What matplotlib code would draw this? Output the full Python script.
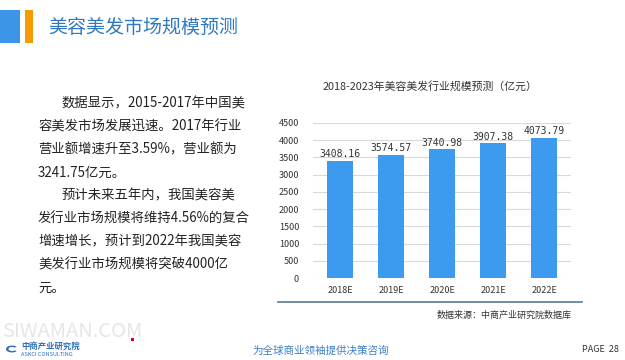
import matplotlib.pyplot as plt
from matplotlib.patches import Rectangle, Wedge
from matplotlib.lines import Line2D

plt.rcParams['font.family'] = ['Noto Sans CJK SC', 'DejaVu Sans']

# data
years = ['2018E', '2019E', '2020E', '2021E', '2022E']
market_size = [3408.16, 3574.57, 3740.98, 3907.38, 4073.79]
y_ticks = [0, 500, 1000, 1500, 2000, 2500, 3000, 3500, 4000, 4500]

page_title = '美容美发市场规模预测'
chart_title = '2018-2023年美容美发行业规模预测（亿元）'
source_text = '数据来源：中商产业研究院数据库'
body_lines = [
    '数据显示，2015-2017年中国美',
    '容美发市场发展迅速。2017年行业',
    '营业额增速升至3.59%，营业额为',
    '3241.75亿元。',
    '预计未来五年内，我国美容美',
    '发行业市场规模将维持4.56%的复合',
    '增速增长，预计到2022年我国美容',
    '美发行业市场规模将突破4000亿',
    '元。',
]
indented = [0, 4]

W, H = 625, 360
fig = plt.figure(figsize=(W / 100, H / 100), dpi=100)
fig.patch.set_facecolor('white')


def fx(x):
    return x / W


def fy(y):
    return 1 - y / H


# header blocks
fig.add_artist(Rectangle((fx(0), fy(43)), fx(20), 33 / H, transform=fig.transFigure,
                         color='#3D95E8', lw=0))
fig.add_artist(Rectangle((fx(25), fy(43)), fx(8), 33 / H, transform=fig.transFigure,
                         color='#F59C00', lw=0))
fig.text(fx(48), fy(27), page_title, fontsize=13.7, color='#2F78C4', va='center')

# left text
for i, line in enumerate(body_lines):
    x = 62 if i in indented else 38
    fig.text(fx(x), fy(103 + i * 23.1), line, fontsize=9.6, color='#222222', va='center')

# chart
ax = fig.add_axes([fx(313), fy(278), fx(571 - 313), (278 - 123) / H])
bars = ax.bar(range(len(years)), market_size, width=0.51, color='#3D9BEF', zorder=3)
ax.set_xlim(-0.53, len(years) - 0.47)
ax.set_ylim(0, 4500)
ax.set_yticks(y_ticks)
ax.set_xticks(range(len(years)))
ax.set_xticklabels(years)
ax.tick_params(axis='both', length=0, labelsize=6.5, colors='#333333')
ax.tick_params(axis='y', pad=10)
ax.tick_params(axis='x', pad=6)
ax.grid(axis='y', color='#D9D9D9', lw=0.8, zorder=0)
for s in ax.spines.values():
    s.set_visible(False)
for b, v in zip(bars, market_size):
    ax.text(b.get_x() + b.get_width() / 2, v + 40, f'{v:.2f}', ha='center', va='bottom',
            fontsize=7, color='#333333', family='DejaVu Sans Mono')

fig.text(fx(430), fy(86), chart_title, fontsize=7.8, color='#333333', ha='center', va='center')
fig.add_artist(Line2D([fx(278), fx(582)], [fy(302), fy(302)], transform=fig.transFigure,
                      color='#5A7A90', lw=1.2))
fig.text(fx(572), fy(315), source_text, fontsize=6.5, color='#333333', ha='right', va='center')

# footer
fig.text(fx(2), fy(337), 'SIWAMAN.COM', fontsize=14.5, color='#E6E6E6', va='baseline')
fig.add_artist(Rectangle((fx(131), fy(341)), fx(3), 3 / H, transform=fig.transFigure,
                         color='#E0001B', lw=0))
# small logo mark
fig.add_artist(Wedge((fx(12), fy(349)), 6 / W, 40, 320, width=2.5 / W,
                     transform=fig.transFigure, color='#2F6FB8', lw=0))
fig.text(fx(21), fy(346), '中商产业研究院', fontsize=6, color='#2F6FB8', va='center',
         fontweight='bold')
fig.text(fx(21), fy(355), 'ASKCI CONSULTING', fontsize=4, color='#2F6FB8', va='center')
fig.text(fx(252), fy(351), '为全球商业领袖提供决策咨询', fontsize=7.6, color='#3A7FC8',
         va='center', style='italic')
fig.text(fx(582), fy(349), 'PAGE  28', fontsize=6.5, color='#333333', va='center')

fig.savefig('out.png', dpi=100)
